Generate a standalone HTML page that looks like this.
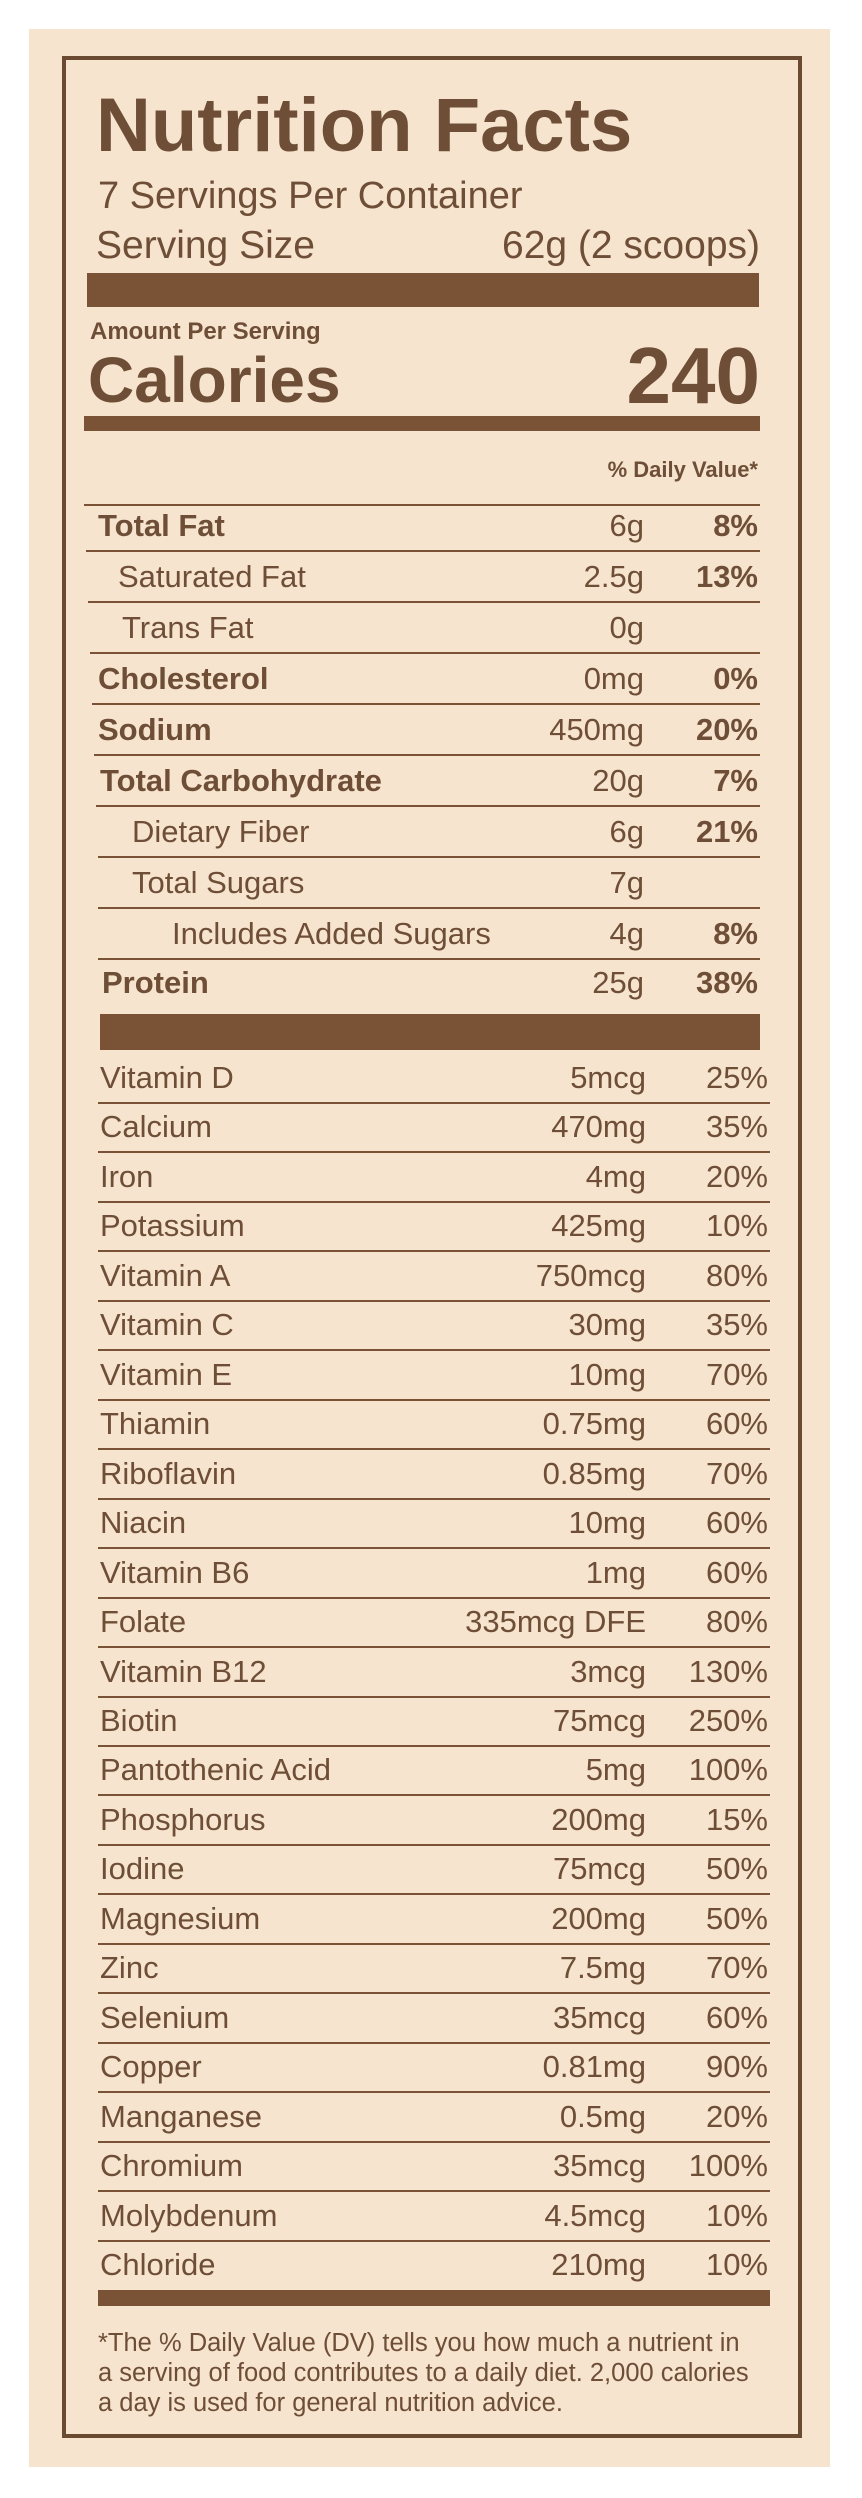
<!DOCTYPE html>
<html><head><meta charset="utf-8"><style>
body{margin:0;width:862px;height:2498px;background:#fff;position:relative;font-family:"Liberation Sans",sans-serif;color:#6e4e36;overflow:hidden}
.panel{position:absolute;left:29px;top:29px;width:801px;height:2438px;background:#f6e4cf}
.box{position:absolute;left:62px;top:56px;width:740px;height:2382px;border:4px solid #6b4a32;box-sizing:border-box}
.a{position:absolute;white-space:nowrap}
.bar{position:absolute;background:#7a5235}
.ln{position:absolute;height:2px;background:#7a5235}
.row{position:absolute;left:98px;width:660px;height:40px;line-height:40px;font-size:31px}
.row .v{position:absolute;right:114px;top:0}
.row .p{position:absolute;right:0;top:0}
.b{font-weight:bold}
</style></head><body>
<div class="panel"></div>
<div class="box"></div>
<div class="a b" style="left:96px;top:84px;font-size:76px;line-height:84px">Nutrition Facts</div>
<div class="a" style="left:98px;top:176px;font-size:38px;line-height:40px">7 Servings Per Container</div>
<div class="a" style="left:96px;top:226px;font-size:39px;line-height:40px">Serving Size</div>
<div class="a" style="right:102px;top:226px;font-size:39px;line-height:40px">62g (2 scoops)</div>
<div class="bar" style="left:87px;top:273px;width:672px;height:34px"></div>
<div class="a b" style="left:90px;top:318px;font-size:24px;line-height:28px">Amount Per Serving</div>
<div class="a b" style="left:88px;top:345px;font-size:64px;line-height:70px">Calories</div>
<div class="a b" style="right:102px;top:332px;font-size:80px;line-height:88px">240</div>
<div class="bar" style="left:84px;top:416px;width:676px;height:15px"></div>
<div class="a b" style="right:104px;top:457px;font-size:22px;line-height:26px">% Daily Value*</div>
<div class="ln" style="left:84px;top:504px;width:676px"></div>

<div class="row" style="top:506px"><span class="b" style="font-size:31px">Total Fat</span><span class="v">6g</span><span class="p b">8%</span></div>
<div class="ln" style="left:86px;top:550px;width:674px"></div>
<div class="row" style="top:557px"><span style="margin-left:20px">Saturated Fat</span><span class="v">2.5g</span><span class="p b">13%</span></div>
<div class="ln" style="left:88px;top:601px;width:672px"></div>
<div class="row" style="top:608px"><span style="margin-left:24px">Trans Fat</span><span class="v">0g</span><span class="p b"></span></div>
<div class="ln" style="left:90px;top:652px;width:670px"></div>
<div class="row" style="top:659px"><span class="b">Cholesterol</span><span class="v">0mg</span><span class="p b">0%</span></div>
<div class="ln" style="left:92px;top:703px;width:668px"></div>
<div class="row" style="top:710px"><span class="b">Sodium</span><span class="v">450mg</span><span class="p b">20%</span></div>
<div class="ln" style="left:94px;top:754px;width:666px"></div>
<div class="row" style="top:761px"><span class="b" style="margin-left:2px">Total Carbohydrate</span><span class="v">20g</span><span class="p b">7%</span></div>
<div class="ln" style="left:96px;top:805px;width:664px"></div>
<div class="row" style="top:812px"><span style="margin-left:34px">Dietary Fiber</span><span class="v">6g</span><span class="p b">21%</span></div>
<div class="ln" style="left:98px;top:856px;width:662px"></div>
<div class="row" style="top:863px"><span style="margin-left:34px">Total Sugars</span><span class="v">7g</span><span class="p b"></span></div>
<div class="ln" style="left:98px;top:907px;width:662px"></div>
<div class="row" style="top:914px"><span style="margin-left:74px">Includes Added Sugars</span><span class="v">4g</span><span class="p b">8%</span></div>
<div class="ln" style="left:98px;top:958px;width:662px"></div>
<div class="row" style="top:963px"><span class="b" style="margin-left:4px">Protein</span><span class="v">25g</span><span class="p b">38%</span></div>
<div class="bar" style="left:100px;top:1014px;width:660px;height:36px"></div>

<div id="vit"></div>
<div class="bar" style="left:98px;top:2290px;width:672px;height:16px"></div>
<div class="a" style="left:98px;top:2328px;font-size:25.5px;line-height:30px">*The % Daily Value (DV) tells you how much a nutrient in<br>a serving of food contributes to a daily diet. 2,000 calories<br>a day is used for general nutrition advice.</div>
<script>
var d=[["Vitamin D","5mcg","25%"],["Calcium","470mg","35%"],["Iron","4mg","20%"],["Potassium","425mg","10%"],["Vitamin A","750mcg","80%"],["Vitamin C","30mg","35%"],["Vitamin E","10mg","70%"],["Thiamin","0.75mg","60%"],["Riboflavin","0.85mg","70%"],["Niacin","10mg","60%"],["Vitamin B6","1mg","60%"],["Folate","335mcg DFE","80%"],["Vitamin B12","3mcg","130%"],["Biotin","75mcg","250%"],["Pantothenic Acid","5mg","100%"],["Phosphorus","200mg","15%"],["Iodine","75mcg","50%"],["Magnesium","200mg","50%"],["Zinc","7.5mg","70%"],["Selenium","35mcg","60%"],["Copper","0.81mg","90%"],["Manganese","0.5mg","20%"],["Chromium","35mcg","100%"],["Molybdenum","4.5mcg","10%"],["Chloride","210mg","10%"]];
var h="";
for(var i=0;i<d.length;i++){
 var c=1078+i*(2265-1078)/24;
 h+='<div class="row" style="left:100px;width:668px;top:'+(c-20)+'px"><span>'+d[i][0]+'</span><span class="v" style="right:122px">'+d[i][1]+'</span><span class="p">'+d[i][2]+'</span></div>';
 if(i<d.length-1) h+='<div class="ln" style="left:98px;width:672px;top:'+(c+24)+'px"></div>';
}
document.getElementById("vit").innerHTML=h;
</script>
</body></html>
